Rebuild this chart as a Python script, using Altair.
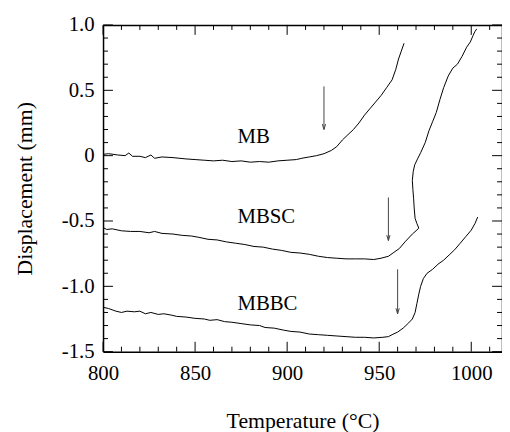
import altair as alt
import pandas as pd

# ---- data ----
mb_t = [800, 803, 808, 812, 814, 816, 820, 823, 826, 828, 832, 838, 845, 850, 855, 860, 865, 870,
        875, 880, 885, 890, 895, 900, 905, 908, 912, 916, 920, 924, 927, 930, 933, 936, 939, 942,
        945, 948, 951, 954, 957, 959, 960.5, 962, 963.5]
mb_d = [0.01, 0.015, 0.005, 0.0, 0.02, -0.005, -0.005, -0.015, 0.005, -0.02, -0.01, -0.015, -0.025,
        -0.03, -0.035, -0.04, -0.035, -0.045, -0.04, -0.05, -0.045, -0.05, -0.04, -0.035, -0.03,
        -0.02, -0.01, 0.0, 0.015, 0.04, 0.07, 0.12, 0.16, 0.20, 0.25, 0.31, 0.36, 0.41, 0.46, 0.52,
        0.58, 0.66, 0.74, 0.80, 0.86]

mbsc_t = [800, 802, 805, 810, 815, 820, 825, 828, 832, 838, 843, 848, 852, 857, 862, 867, 872, 877,
          882, 887, 892, 897, 902, 907, 912, 917, 922, 927, 932, 937, 942, 947, 951, 955, 958, 961,
          964, 966, 968, 970, 971.5, 970.5, 969.5, 969, 968.7, 968.3, 968, 968.5, 969.3, 971, 972.6,
          975, 977, 979, 981, 983, 985, 987.5, 990, 992.5, 995, 997.5, 999.5, 1001, 1002, 1003]
mbsc_d = [-0.55, -0.565, -0.56, -0.575, -0.58, -0.58, -0.59, -0.58, -0.595, -0.60, -0.61, -0.615,
          -0.625, -0.64, -0.645, -0.66, -0.67, -0.68, -0.695, -0.70, -0.715, -0.725, -0.74, -0.745,
          -0.755, -0.77, -0.78, -0.785, -0.79, -0.79, -0.79, -0.795, -0.785, -0.77, -0.74, -0.71,
          -0.66, -0.63, -0.60, -0.575, -0.555, -0.52, -0.48, -0.40, -0.33, -0.26, -0.19, -0.12,
          -0.07, -0.02, 0.025, 0.10, 0.19, 0.26, 0.33, 0.43, 0.52, 0.61, 0.67, 0.70, 0.76, 0.83,
          0.87, 0.92, 0.95, 0.97]

mbbc_t = [800, 803, 807, 810, 813, 817, 820, 823, 826, 830, 833, 837, 840, 845, 850, 855, 858, 862,
          866, 870, 875, 880, 885, 888, 893, 898, 902, 907, 912, 917, 922, 927, 932, 937, 942, 947,
          952, 955, 957, 960, 963, 966, 968, 969.5, 970.5, 971.5, 972.5, 974, 976, 979, 982, 985,
          988, 991, 994, 997, 1000, 1002, 1003.5]
mbbc_d = [-1.16, -1.17, -1.19, -1.20, -1.19, -1.195, -1.19, -1.21, -1.20, -1.215, -1.21, -1.22,
          -1.23, -1.235, -1.245, -1.25, -1.26, -1.255, -1.27, -1.275, -1.285, -1.295, -1.30, -1.315,
          -1.32, -1.335, -1.345, -1.35, -1.365, -1.37, -1.375, -1.38, -1.385, -1.39, -1.39, -1.395,
          -1.39, -1.385, -1.37, -1.35, -1.32, -1.28, -1.25, -1.20, -1.13, -1.06, -1.00, -0.94,
          -0.90, -0.87, -0.83, -0.80, -0.76, -0.72, -0.67, -0.62, -0.57, -0.52, -0.47]

label_names = ["MB", "MBSC", "MBBC"]
label_t = [873, 873, 873]
label_d = [0.10, -0.515, -1.178]

arrow_t = [920, 955, 960]
arrow_top = [0.53, -0.32, -0.87]
arrow_end = [0.20, -0.65, -1.21]

x_major = [800, 850, 900, 950, 1000]
x_minor = [810, 820, 830, 840, 860, 870, 880, 890, 910, 920, 930, 940, 960, 970, 980, 990, 1010]
y_major = [-1.5, -1.0, -0.5, 0.0, 0.5, 1.0]
y_minor = [-1.4, -1.3, -1.2, -1.1, -0.9, -0.8, -0.7, -0.6, -0.4, -0.3, -0.2, -0.1,
           0.1, 0.2, 0.3, 0.4, 0.6, 0.7, 0.8, 0.9]

# ---- tables ----
rows = []
for name, ts, ds in [("MB", mb_t, mb_d), ("MBSC", mbsc_t, mbsc_d), ("MBBC", mbbc_t, mbbc_d)]:
    for i, (t, d) in enumerate(zip(ts, ds)):
        rows.append({"sample": name, "temp": t, "disp": d, "idx": i})
curves = pd.DataFrame(rows)
labels = pd.DataFrame({"name": label_names, "temp": label_t, "disp": label_d})
arrows = pd.DataFrame({"temp": arrow_t, "top": arrow_top, "end": arrow_end})

W, H = 403, 330
MAJ, MIN = 10, 5
FONT = "Liberation Serif"
xs = alt.Scale(domain=[800, 1016.7], nice=False, zero=False)
ys = alt.Scale(domain=[-1.5, 1.0], nice=False, zero=False)

ylab = ("abs(datum.value) < 1e-9 ? '0' : (datum.value < 0 ? '-' : '') + "
        "format(abs(datum.value), '.1f')")

lines = alt.Chart(curves).mark_line(color="black", strokeWidth=1).encode(
    x=alt.X("temp:Q", scale=xs, title="Temperature (°C)",
            axis=alt.Axis(values=x_major, ticks=False, orient="bottom", labelFlush=False,
                          format="d", labelPadding=11, titlePadding=28)),
    y=alt.Y("disp:Q", scale=ys, title="Displacement (mm)",
            axis=alt.Axis(values=y_major, ticks=False, labelExpr=ylab, orient="left",
                          labelFlush=False, labelPadding=9, titlePadding=25)),
    detail="sample:N", order="idx:Q")

texts = alt.Chart(labels).mark_text(font=FONT, fontSize=21, align="left",
                                    baseline="alphabetic", color="black").encode(
    x=alt.X("temp:Q", scale=xs, axis=alt.Axis(ticks=False, labels=False, orient="top",
                                               title=None)),
    y=alt.Y("disp:Q", scale=ys, axis=alt.Axis(ticks=False, labels=False, orient="right",
                                               title=None)),
    text="name:N")

shafts = alt.Chart(arrows).mark_rule(color="#444", strokeWidth=1).encode(
    x=alt.X("temp:Q", scale=xs, axis=None),
    y=alt.Y("top:Q", scale=ys, axis=None),
    y2="end:Q")

heads = alt.Chart(arrows).mark_point(shape="M-0.3,-1L0,0L0.3,-1", size=120, filled=False,
                                      color="#444", strokeWidth=1, opacity=1).encode(
    x=alt.X("temp:Q", scale=xs, axis=None),
    y=alt.Y("end:Q", scale=ys, axis=None))


def xticks(vals, length):
    d = pd.DataFrame({"v": vals})
    base = alt.Chart(d).mark_rule(color="black", strokeWidth=1)
    bottom = base.encode(x=alt.X("v:Q", scale=xs, axis=None),
                         y=alt.value(H), y2=alt.value(H - length))
    top = base.encode(x=alt.X("v:Q", scale=xs, axis=None),
                      y=alt.value(0), y2=alt.value(length))
    return [bottom, top]


def yticks(vals, length):
    d = pd.DataFrame({"v": vals})
    base = alt.Chart(d).mark_rule(color="black", strokeWidth=1)
    left = base.encode(y=alt.Y("v:Q", scale=ys, axis=None),
                       x=alt.value(0), x2=alt.value(length))
    right = base.encode(y=alt.Y("v:Q", scale=ys, axis=None),
                        x=alt.value(W), x2=alt.value(W - length))
    return [left, right]


tick_layers = xticks(x_major, MAJ) + xticks(x_minor, MIN) + yticks(y_major, MAJ) + yticks(y_minor, MIN)

chart = alt.layer(lines, texts, shafts, heads, *tick_layers).resolve_axis(
    x="independent", y="independent"
).properties(
    width=W, height=H,
    autosize=alt.AutoSizeParams(type="none"),
    padding={"left": 96, "top": 15, "right": 0, "bottom": 79},
).configure_view(stroke=None).configure_axis(
    grid=False, domainColor="black", domainWidth=1.5,
    labelFont=FONT, labelFontSize=21, labelColor="black",
    titleFont=FONT, titleFontSize=22, titleFontWeight="normal", titleColor="black",
)

chart.save("out.html", embed_options={"renderer": "svg", "actions": False})
